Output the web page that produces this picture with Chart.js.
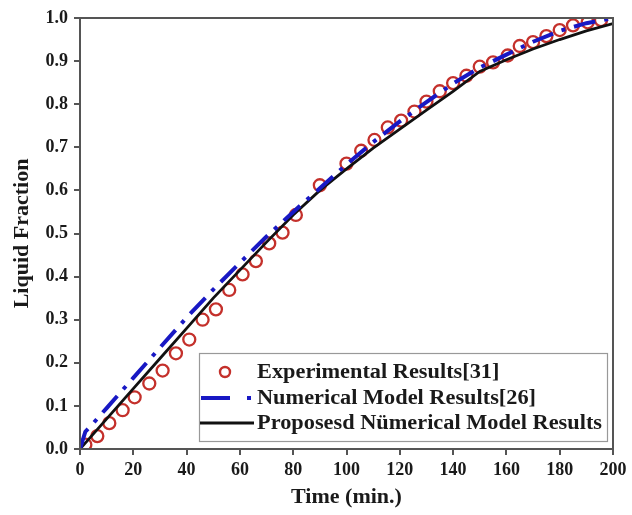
<!DOCTYPE html>
<html>
<head>
<meta charset="utf-8">
<script src="https://cdn.jsdelivr.net/npm/chart.js@4"></script>
<style>
  html, body { margin: 0; padding: 0; background: #fff; }
  #wrap { width: 632px; height: 515px; position: relative; }
</style>
</head>
<body>
<div id="wrap"><canvas id="chart"></canvas></div>
<script>
// values
let seriesLabels = ["Experimental Results[31]", "Numerical Model Results[26]", "Proposesd Nümerical Model Results"];

let expTime = [2, 6.5, 11, 16, 20.5, 26, 31, 36, 41, 46, 51, 56, 61, 66, 71, 76, 81, 90, 100, 105.5, 110.5, 115.5, 120.5, 125.5, 130, 135, 140, 145, 150, 155, 160.5, 165, 170, 175, 180, 185, 190.5, 195.5];
let expFrac = [0.01, 0.03, 0.06, 0.09, 0.12, 0.152, 0.182, 0.222, 0.254, 0.30, 0.324, 0.369, 0.405, 0.436, 0.477, 0.502, 0.543, 0.612, 0.662, 0.692, 0.717, 0.746, 0.762, 0.783, 0.806, 0.83, 0.849, 0.866, 0.887, 0.897, 0.913, 0.935, 0.944, 0.958, 0.972, 0.983, 0.99, 0.995];

let numTime = [0, 2, 5, 10, 20, 30, 40, 50, 60, 70, 80, 90, 100, 110, 120, 130, 140, 150, 160, 170, 180, 190, 200];
let numFrac = [0, 0.04, 0.06, 0.095, 0.165, 0.235, 0.305, 0.37, 0.432, 0.493, 0.55, 0.605, 0.66, 0.712, 0.76, 0.805, 0.848, 0.885, 0.915, 0.945, 0.97, 0.988, 1.0];

let propTime = [0, 10, 20, 30, 40, 50, 60, 70, 80, 90, 100, 110, 120, 130, 140, 150, 160, 170, 180, 190, 200];
let propFrac = [0, 0.07, 0.14, 0.21, 0.28, 0.35, 0.415, 0.48, 0.543, 0.6, 0.65, 0.698, 0.742, 0.786, 0.83, 0.876, 0.903, 0.928, 0.95, 0.97, 0.987];

const FONT = "'Liberation Serif', 'Times New Roman', serif";
const AXIS = "#555";

function pairs(xs, ys) {
  return xs.map((x, i) => ({ x: x, y: ys[i] }));
}

// legend drawn inside the plot, lower right
const boxLegend = {
  id: "boxLegend",
  afterDraw(chart) {
    let ctx = chart.ctx;
    let a = chart.chartArea;
    // frame on top and right
    ctx.save();
    ctx.strokeStyle = AXIS;
    ctx.lineWidth = 2;
    ctx.strokeRect(a.left, a.top, a.right - a.left, a.bottom - a.top);

    let bx = 199, by = 353, bw = 408, bh = 88;
    ctx.fillStyle = "#fff";
    ctx.fillRect(bx, by, bw, bh);
    ctx.strokeStyle = "#999";
    ctx.lineWidth = 1.2;
    ctx.strokeRect(bx + 0.5, by + 0.5, bw, bh);

    let rows = [372, 398, 423];
    let ds = chart.data.datasets;
    ctx.font = "bold 20px " + FONT;
    ctx.textBaseline = "middle";
    ctx.fillStyle = "#1a1a1a";
    // the source text is a little wider than the font, stretch it to fit
    let longest = ctx.measureText(ds[2].label).width;
    let sx = 345 / longest;
    rows.forEach((y, i) => {
      ctx.save();
      ctx.translate(257, y + 1);
      ctx.scale(sx, 1);
      ctx.fillText(ds[i].label, 0, 0);
      ctx.restore();
    });

    // circle marker
    ctx.strokeStyle = ds[0].borderColor;
    ctx.lineWidth = 2.4;
    ctx.beginPath();
    ctx.arc(225, rows[0], 5, 0, Math.PI * 2);
    ctx.stroke();

    // dash-dot marker
    ctx.strokeStyle = ds[1].borderColor;
    ctx.lineWidth = 4;
    ctx.beginPath();
    ctx.moveTo(201, rows[1]); ctx.lineTo(230, rows[1]);
    ctx.moveTo(247, rows[1]); ctx.lineTo(251, rows[1]);
    ctx.stroke();

    // solid marker
    ctx.strokeStyle = ds[2].borderColor;
    ctx.lineWidth = 3;
    ctx.beginPath();
    ctx.moveTo(200, rows[2]); ctx.lineTo(254, rows[2]);
    ctx.stroke();
    ctx.restore();
  }
};

let ctx = document.getElementById("chart").getContext("2d");
new Chart(ctx, {
  type: "scatter",
  data: {
    datasets: [
      {
        label: seriesLabels[0],
        data: pairs(expTime, expFrac),
        showLine: false,
        pointStyle: "circle",
        pointRadius: 6,
        pointBorderWidth: 2.3,
        borderColor: "#c4302b",
        pointBorderColor: "#c4302b",
        pointBackgroundColor: "transparent",
        order: 3
      },
      {
        label: seriesLabels[1],
        data: pairs(numTime, numFrac),
        showLine: true,
        borderColor: "#1818c4",
        backgroundColor: "transparent",
        borderWidth: 4,
        borderDash: [22, 9, 4, 9],
        pointRadius: 0,
        tension: 0,
        order: 1
      },
      {
        label: seriesLabels[2],
        data: pairs(propTime, propFrac),
        showLine: true,
        borderColor: "#111",
        backgroundColor: "transparent",
        borderWidth: 2.8,
        pointRadius: 0,
        tension: 0,
        order: 2
      }
    ]
  },
  options: {
    responsive: true,
    maintainAspectRatio: false,
    animation: false,
    layout: { padding: { top: 18, right: 19, left: 0, bottom: 0 } },
    plugins: {
      legend: { display: false },
      tooltip: { enabled: false }
    },
    scales: {
      x: {
        type: "linear",
        min: 0,
        max: 200,
        afterFit: s => { s.height = 66; },
        ticks: {
          stepSize: 20,
          color: "#1a1a1a",
          padding: 5,
          maxRotation: 0,
          font: { family: FONT, size: 18, weight: "bold" }
        },
        grid: { drawOnChartArea: false, drawTicks: true, tickLength: 6, color: AXIS, lineWidth: 2 },
        border: { color: AXIS, width: 2 },
        title: {
          display: true,
          text: "Time (min.)",
          color: "#1a1a1a",
          padding: 4,
          font: { family: FONT, size: 22, weight: "bold" }
        }
      },
      y: {
        type: "linear",
        min: 0,
        max: 1,
        afterFit: s => { s.width = 80; },
        ticks: {
          stepSize: 0.1,
          color: "#1a1a1a",
          padding: 6,
          font: { family: FONT, size: 18, weight: "bold" },
          callback: v => v.toFixed(1)
        },
        grid: { drawOnChartArea: false, drawTicks: true, tickLength: 6, color: AXIS, lineWidth: 2 },
        border: { color: AXIS, width: 2 },
        title: {
          display: true,
          text: "Liquid Fraction",
          color: "#1a1a1a",
          padding: 9,
          font: { family: FONT, size: 22, weight: "bold" }
        }
      }
    }
  },
  plugins: [boxLegend]
});
</script>
</body>
</html>
